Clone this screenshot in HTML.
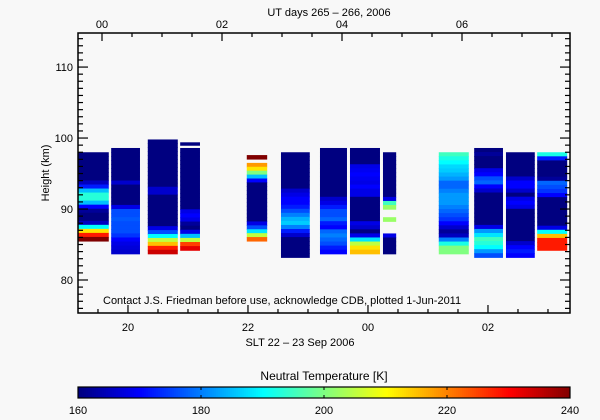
<!DOCTYPE html>
<html><head><meta charset="utf-8"><style>
html,body{margin:0;padding:0;background:#f8f8f8;}
svg{display:block;font-family:"Liberation Sans",sans-serif;}
</style></head><body>
<svg id="chart" width="600" height="420" xmlns="http://www.w3.org/2000/svg">
<rect x="0" y="0" width="600" height="420" fill="#f8f8f8"/>
<g id="cells"></g>
<g id="axes"></g>
<text x="329" y="16" font-size="11" text-anchor="middle">UT days 265 – 266, 2006</text>
<text transform="translate(49,173) rotate(-90)" font-size="11" text-anchor="middle">Height (km)</text>
<text x="300" y="346" font-size="11" text-anchor="middle">SLT 22 – 23 Sep 2006</text>
<text x="103" y="304" font-size="11">Contact J.S. Friedman before use, acknowledge CDB, plotted 1-Jun-2011</text>
<text x="324" y="380" font-size="12" text-anchor="middle">Neutral Temperature [K]</text>
<g id="cbar"></g>
</svg>
<script>
const NS="http://www.w3.org/2000/svg";
// axis domains
const xDomain=[19.167,27.367], yDomain=[75.35,114.8];
const bottomTicks=[20,22,24,26];
const bottomTickLabels=["20","22","00","02"];
const topTicks=[19.567,21.567,23.567,25.567];
const topTickLabels=["00","02","04","06"];
const yTicks=[80,90,100,110];
const yTickLabels=["80","90","100","110"];
const cbarTicks=[160,180,200,220,240];
// columns: start/end SLT hours, top/bottom height km, temps top->bottom
const colStart=[19.17,19.72,20.33,20.87,20.87,21.98,22.55,23.20,23.70,24.25,25.18,25.77,26.30,26.82];
const colEnd  =[19.68,20.20,20.83,21.20,21.20,22.32,23.03,23.65,24.20,24.47,25.68,26.25,26.78,27.32];
const colTop  =[98.0,98.6,99.8,99.4,98.6,97.6,98.0,98.6,98.6,98.0,98.0,98.6,98.0,98.0];
const colBot  =[85.5,83.7,83.7,99.0,84.2,85.5,83.2,83.7,83.7,83.7,83.7,83.2,83.2,84.2];
const colTemps=[
 [160,160,160,160,160,160,160,165,172,185,193,193,185,170,162,160,160,165,190,212,228,240],
 [160,160,160,160,160,160,160,160,166,160,160,160,160,160,168,176,176,177,176,176,176,174,170,168,167,166],
 [160,160,160,160,160,160,160,160,160,160,160,160,166,166,160,160,160,160,160,160,160,160,168,176,190,205,215,228,234],
 [160],
 [160,160,160,160,160,160,160,160,160,160,160,160,160,160,160,168,170,168,162,160,168,185,205,225,232],
 [240,null,218,212,200,185,170,160,160,160,160,160,160,160,160,160,160,168,176,188,205,222],
 [160,160,160,160,160,160,160,160,160,166,168,170,170,172,176,180,184,186,180,172,166,160,160,160,160,160],
 [160,160,160,160,160,160,160,160,160,160,160,160,166,168,172,176,176,178,172,170,178,180,178,176,172,170],
 [160,160,160,160,168,169,170,169,168,170,168,168,160,160,160,160,160,160,168,166,160,168,188,205,212,215],
 [160,160,160,160,160,160,160,160,160,160,160,168,195,202,null,null,202,null,null,null,168,160,160,160,160],
 [195,192,190,187,186,184,182,178,178,180,182,182,182,180,178,176,174,170,166,162,165,180,192,200,200],
 [160,162,160,160,160,168,170,176,178,170,166,160,160,160,160,160,160,160,160,168,182,188,195,193,190,182,176],
 [160,160,160,160,160,160,166,170,170,166,160,168,170,168,160,160,160,160,160,160,160,160,166,170,172,170],
 [192,172,160,160,160,160,162,178,176,174,170,160,160,160,160,160,160,160,168,190,215,228,228,228]
];
const box={l:78,r:570,t:33,b:313};
const sx=v=>box.l+(v-xDomain[0])/(xDomain[1]-xDomain[0])*(box.r-box.l);
const sy=v=>box.b-(v-yDomain[0])/(yDomain[1]-yDomain[0])*(box.b-box.t);
function jet(T){const t=Math.max(0,Math.min(1,(T-160)/80));
 const c=v=>Math.round(255*Math.max(0,Math.min(1,v)));
 return `rgb(${c(1.5-Math.abs(4*t-3))},${c(1.5-Math.abs(4*t-2))},${c(1.5-Math.abs(4*t-1))})`;}
function mk(tag,attrs,parent){const e=document.createElementNS(NS,tag);for(const k in attrs)e.setAttribute(k,attrs[k]);parent.appendChild(e);return e;}
const cells=document.getElementById('cells');
colTemps.forEach((arr,i)=>{
 const x0=sx(colStart[i]),x1=sx(colEnd[i]),y0=sy(colTop[i]),y1=sy(colBot[i]);
 const h=(y1-y0)/arr.length;
 arr.forEach((T,j)=>{ if(T===null)return;
  const r=mk('rect',{x:x0,y:y0+j*h,width:x1-x0,height:h+0.6,fill:jet(T)},cells);
  
  
 });
});
const ax=document.getElementById('axes');
const fr=mk('rect',{x:box.l,y:box.t,width:box.r-box.l,height:box.b-box.t,fill:'none',stroke:'#000','stroke-width':1.5},ax);


function ln(x1,y1,x2,y2){mk('line',{x1,y1,x2,y2,stroke:'#000','stroke-width':1.2},ax);}
function txt(x,y,s,anchor){const t=mk('text',{x,y,'font-size':11,'text-anchor':anchor||'middle'},ax);t.textContent=s;
 
 }
for(let v=19.5;v<=27.3;v+=0.5){const x=sx(v);const maj=bottomTicks.some(b=>Math.abs(b-v)<0.01);ln(x,box.b,x,box.b-(maj?8:4));}
bottomTicks.forEach((v,i)=>txt(sx(v),331,bottomTickLabels[i]));
for(let v=topTicks[0]-0.5;v<=27.3;v+=0.5){if(v<xDomain[0])continue;const x=sx(v);const maj=topTicks.some(b=>Math.abs(b-v)<0.01);ln(x,box.t,x,box.t+(maj?8:4));}
topTicks.forEach((v,i)=>txt(sx(v),28,topTickLabels[i]));
for(let v=76;v<=114;v+=1){const y=sy(v);const maj=v%10===0;const L=maj?10:5;ln(box.l,y,box.l+L,y);ln(box.r,y,box.r-L,y);}
yTicks.forEach((v,i)=>txt(box.l-5,sy(v)+4,yTickLabels[i],'end'));
// colorbar
const cb=document.getElementById('cbar');const cx0=78,cx1=570,cy=387,ch=11;
for(let i=0;i<246;i++){const T=160+80*i/246;
 const r=mk('rect',{x:cx0+i*2,y:cy,width:2.4,height:ch,fill:jet(T)},cb);
 
 }
mk('rect',{x:cx0,y:cy,width:cx1-cx0,height:ch,fill:'none',stroke:'#000','stroke-width':1.2},cb);
cbarTicks.forEach(v=>{const x=cx0+(v-160)/80*(cx1-cx0);
 mk('line',{x1:x,y1:cy,x2:x,y2:cy+3,stroke:'#000'},cb);mk('line',{x1:x,y1:cy+ch,x2:x,y2:cy+ch-3,stroke:'#000'},cb);
 const t=mk('text',{x,y:414,'font-size':11,'text-anchor':'middle'},cb);t.textContent=v;
 
 });
</script>
</body></html>
